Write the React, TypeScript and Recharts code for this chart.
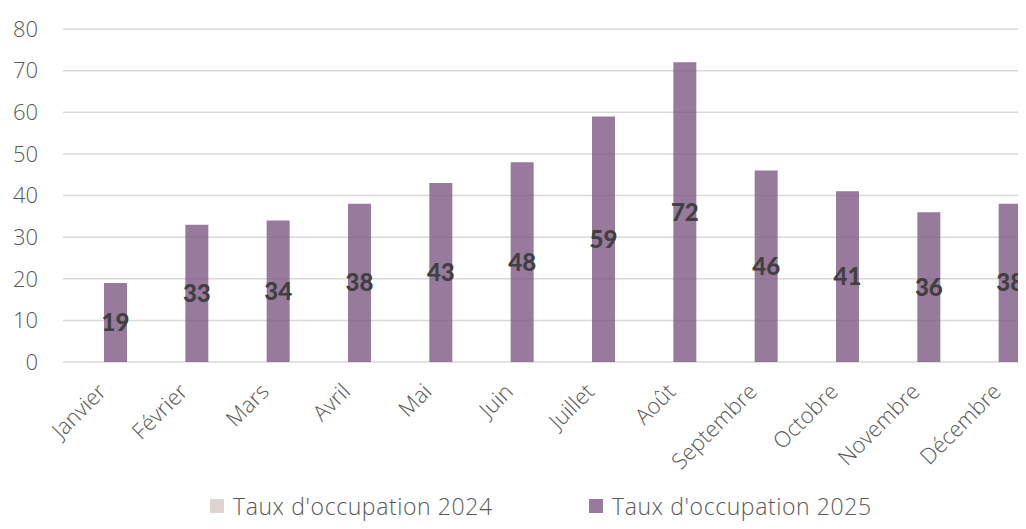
import { BarChart, Bar, XAxis, YAxis, CartesianGrid, LabelList } from 'recharts'

const months = ['Janvier', 'Février', 'Mars', 'Avril', 'Mai', 'Juin', 'Juillet', 'Août', 'Septembre', 'Octobre', 'Novembre', 'Décembre']
const taux2024: (number | null)[] = [null, null, null, null, null, null, null, null, null, null, null, null]
const taux2025 = [19, 33, 34, 38, 43, 48, 59, 72, 46, 41, 36, 38]
const yTicks = [0, 10, 20, 30, 40, 50, 60, 70, 80]
const seriesNames = ["Taux d'occupation 2024", "Taux d'occupation 2025"]

const FONT = '"Open Sans", Lato, sans-serif'
const LABEL_FONT = 'Lato, "Open Sans", sans-serif'
const COLOR_2024 = '#e0d4d0'
const COLOR_2025 = '#987b9c'

const data = months.map((m, i) => ({ month: m, t2024: taux2024[i], t2025: taux2025[i] }))

function MonthTick({ x, y, payload }: any) {
  return (
    <text
      x={x + 4}
      y={y + 31}
      transform={`rotate(-45 ${x + 4} ${y + 31})`}
      textAnchor="end"
      fill="#595959"
      fontSize={22}
      fontWeight={300}
      fontFamily={FONT}
    >
      {payload.value}
    </text>
  )
}

export default function App() {
  return (
    <div style={{ position: 'relative', margin: -8, width: 1026, height: 529, overflow: 'hidden', background: '#fff' }}>
      <BarChart
        width={1039}
        height={529}
        data={data}
        margin={{ top: 29, right: 0, bottom: 0, left: 0 }}
        barGap={0}
      >
        <CartesianGrid vertical={false} stroke="#d9d9d9" strokeWidth={1.5} />
        <XAxis
          dataKey="month"
          height={167}
          axisLine={false}
          tickLine={false}
          tickSize={0}
          tickMargin={0}
          interval={0}
          tick={<MonthTick />}
        />
        <YAxis
          width={63}
          domain={[0, 80]}
          ticks={yTicks}
          axisLine={false}
          tickLine={false}
          tickSize={0}
          tickMargin={25}
          tick={{ fill: '#595959', fontSize: 22, fontWeight: 300, fontFamily: FONT }}
        />
        <Bar dataKey="t2024" name={seriesNames[0]} fill={COLOR_2024} barSize={23} isAnimationActive={false} />
        <Bar dataKey="t2025" name={seriesNames[1]} fill="#7e5a83" fillOpacity={0.8} barSize={23} isAnimationActive={false}>
          <LabelList
            dataKey="t2025"
            position="center"
            fill="#404040"
            fontSize={24}
            fontWeight={900}
            fontFamily={LABEL_FONT}
          />
        </Bar>
      </BarChart>

      {/* légende */}
      <div style={{ position: 'absolute', left: 210, top: 491, lineHeight: '30px', display: 'flex', alignItems: 'center', fontFamily: FONT, fontSize: 23, fontWeight: 300, letterSpacing: 0.6, color: '#595959', whiteSpace: 'nowrap' }}>
        {seriesNames.map((name, i) => (
          <div key={name} style={{ display: 'flex', alignItems: 'center', width: 379 }}>
            <span style={{ display: 'inline-block', width: 14, height: 14, background: i === 0 ? COLOR_2024 : COLOR_2025, marginRight: 9 }} />
            <span>{name}</span>
          </div>
        ))}
      </div>
    </div>
  )
}
